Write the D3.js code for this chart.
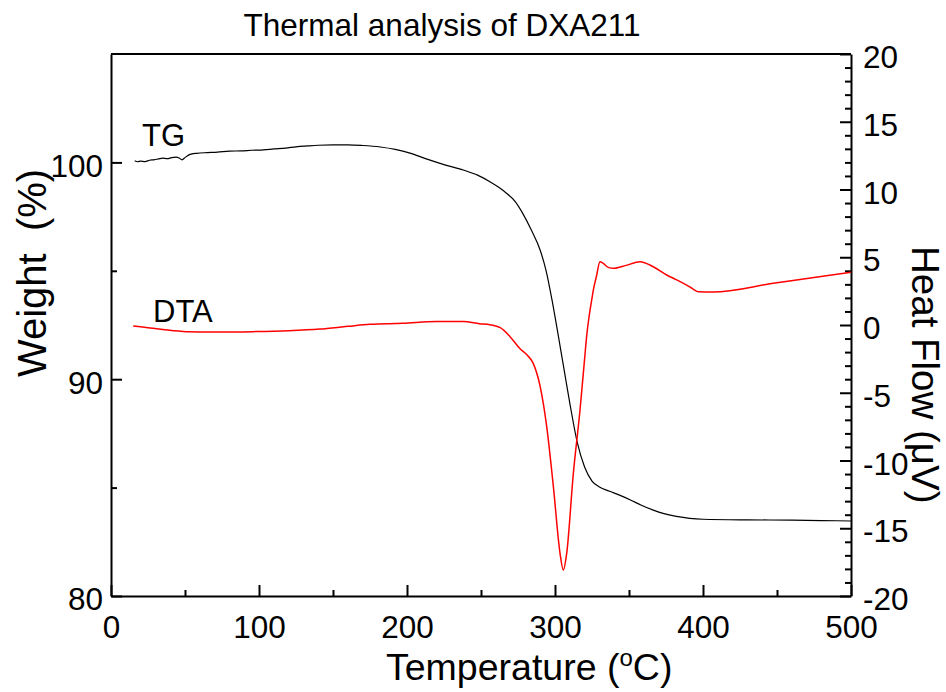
<!DOCTYPE html>
<html>
<head>
<meta charset="utf-8">
<script src="https://cdn.jsdelivr.net/npm/d3@7"></script>
<style>
  body { margin: 0; background: #fff; }
  svg { display: block; }
  text { font-family: "Liberation Sans", Arial, sans-serif; fill: #000; }
</style>
</head>
<body>
<svg id="chart" width="946" height="692"></svg>
<script>
// ---- data ----
const titleText = "Thermal analysis of DXA211";
const xTicks = [0, 100, 200, 300, 400, 500];
const xMinorTicks = [50, 150, 250, 350, 450];
const weightTicks = [80, 90, 100];
const weightMinorTicks = [85, 95];
const heatTicks = [-20, -15, -10, -5, 0, 5, 10, 15, 20];
const heatMinorTicks = d3.range(-19, 20).filter(v => v % 5 !== 0);

// TG: [temperature °C, weight %]
const tgData = [
  [16, 100.08], [18, 100.03], [20, 100.06], [23, 100.04], [26, 100.1], [29, 100.12],
  [32, 100.16], [35, 100.2], [38, 100.17], [41, 100.22], [44, 100.24], [46, 100.2],
  [48, 100.12], [50, 100.22], [53, 100.36], [58, 100.42], [65, 100.45], [72, 100.47],
  [80, 100.52], [88, 100.53], [95, 100.56], [103, 100.58], [110, 100.62], [118, 100.66],
  [125, 100.72], [133, 100.76], [140, 100.79], [150, 100.81], [160, 100.81], [170, 100.78],
  [182, 100.71], [192, 100.6], [202, 100.43], [213, 100.16], [225, 99.9], [238, 99.65],
  [248, 99.4], [256, 99.11], [262, 98.85], [267, 98.59], [273, 98.2], [278, 97.67],
  [284, 96.88], [290, 95.95], [294, 95.0], [298, 93.65], [302, 92.1], [306, 90.5],
  [310, 88.9], [315, 87.1], [320, 85.95], [325, 85.3], [330, 85.03], [337, 84.83],
  [344, 84.64], [351, 84.43], [358, 84.2], [366, 83.97], [373, 83.81], [382, 83.67],
  [391, 83.58], [400, 83.54], [430, 83.51], [460, 83.5], [480, 83.48], [500, 83.46]
];

// DTA: [temperature °C, heat flow µV]
const dtaData = [
  [15, -0.07], [25, -0.2], [35, -0.33], [51, -0.49], [70, -0.52], [96, -0.49],
  [120, -0.42], [141, -0.3], [160, -0.1], [175, 0.05], [197, 0.12], [220, 0.25],
  [238, 0.25], [249, 0.1], [256, 0.02], [263, -0.2], [269.6, -0.86], [276.4, -1.75],
  [281, -2.2], [285.3, -2.83], [290, -4.55], [294.4, -7.5], [298.9, -11.93],
  [303.4, -16.85], [305.6, -18.08], [307.9, -16.85], [312.4, -10.94], [316.9, -6.27],
  [320, -2.5], [321.6, -0.6], [323, 0.6], [324.8, 1.85], [325.9, 2.58], [328, 3.6],
  [330.4, 4.67], [332.6, 4.55], [336, 4.25], [339.4, 4.18], [348, 4.4], [357.4, 4.67],
  [366.4, 4.3], [375.5, 3.69], [379.9, 3.45], [384.5, 3.2], [388, 3.0], [392, 2.75],
  [396.8, 2.46], [407, 2.43], [447.5, 3.08], [475, 3.5], [500, 3.9]
];

// ---- layout ----
const svg = d3.select("#chart");
const L = 111, R = 851, T = 54, B = 596;
const tickFont = 31.5;

const x = d3.scaleLinear().domain([0, 500]).range([L, R]);
const yW = d3.scaleLinear().domain([80, 105]).range([B, T]);
const yH = d3.scaleLinear().domain([-20, 20]).range([B, T]);
const fmt = d => String(d);

function styleAxis(g) {
  g.selectAll("path.domain").attr("stroke", "#000").attr("stroke-width", 2);
  g.selectAll(".tick line").attr("stroke", "#000").attr("stroke-width", 2);
  g.selectAll("text").attr("font-size", tickFont).attr("font-family", '"Liberation Sans", Arial, sans-serif').attr("fill", "#000");
}

// top border
svg.append("line").attr("x1", L).attr("x2", R).attr("y1", T).attr("y2", T)
  .attr("stroke", "#000").attr("stroke-width", 2);

// bottom axis
const gx = svg.append("g").attr("transform", `translate(0,${B})`)
  .call(d3.axisBottom(x).tickValues(xTicks).tickSizeInner(-11).tickSizeOuter(0).tickPadding(20).tickFormat(fmt));
styleAxis(gx);
gx.selectAll("text").attr("dy", "0.71em");
svg.append("g").attr("transform", `translate(0,${B})`)
  .call(d3.axisBottom(x).tickValues(xMinorTicks).tickSizeInner(-6).tickSizeOuter(0).tickFormat(""))
  .call(g => { g.select(".domain").remove(); styleAxis(g); });

// left axis
const gl = svg.append("g").attr("transform", `translate(${L},0)`)
  .call(d3.axisLeft(yW).tickValues(weightTicks).tickSizeInner(-11).tickSizeOuter(0).tickPadding(8).tickFormat(fmt));
styleAxis(gl);
gl.selectAll("text").attr("dy", "0.44em");
svg.append("g").attr("transform", `translate(${L},0)`)
  .call(d3.axisLeft(yW).tickValues(weightMinorTicks).tickSizeInner(-6).tickSizeOuter(0).tickFormat(""))
  .call(g => { g.select(".domain").remove(); styleAxis(g); });

// right axis
const gr = svg.append("g").attr("transform", `translate(${R},0)`)
  .call(d3.axisRight(yH).tickValues(heatTicks).tickSizeInner(-11).tickSizeOuter(0).tickPadding(12).tickFormat(fmt));
styleAxis(gr);
gr.selectAll("text").attr("dy", "0.43em");
svg.append("g").attr("transform", `translate(${R},0)`)
  .call(d3.axisRight(yH).tickValues(heatMinorTicks).tickSizeInner(-6).tickSizeOuter(0).tickFormat(""))
  .call(g => { g.select(".domain").remove(); styleAxis(g); });

// curves
const tgLine = d3.line().x(d => x(d[0])).y(d => yW(d[1])).curve(d3.curveMonotoneX);
const dtaLine = d3.line().x(d => x(d[0])).y(d => yH(d[1])).curve(d3.curveMonotoneX);

svg.append("path").datum(tgData).attr("d", tgLine)
  .attr("fill", "none").attr("stroke", "#000").attr("stroke-width", 1.2);
svg.append("path").datum(dtaData).attr("d", dtaLine)
  .attr("fill", "none").attr("stroke", "#ff0000").attr("stroke-width", 1.5);

// labels
svg.append("text").attr("x", 442).attr("y", 36).attr("text-anchor", "middle")
  .attr("font-size", 31.5).text(titleText);

svg.append("text").attr("x", 142).attr("y", 146).attr("font-size", 31).text("TG");
svg.append("text").attr("x", 153).attr("y", 322).attr("font-size", 31).text("DTA");

const xt = svg.append("text").attr("x", 386).attr("y", 680).attr("font-size", 37.5);
xt.append("tspan").text("Temperature (");
xt.append("tspan").attr("font-size", 24).attr("dy", -14).text("o");
xt.append("tspan").attr("dy", 14).text("C)");

svg.append("text").attr("transform", "translate(46,273) rotate(-90)")
  .attr("text-anchor", "middle").attr("font-size", 40)
  .text("Weight\u00a0\u00a0(%)");

svg.append("text").attr("transform", "translate(912,246) rotate(90)")
  .attr("text-anchor", "start").attr("font-size", 38.5).text("Heat Flow (\u03bcV)");
</script>
</body>
</html>
